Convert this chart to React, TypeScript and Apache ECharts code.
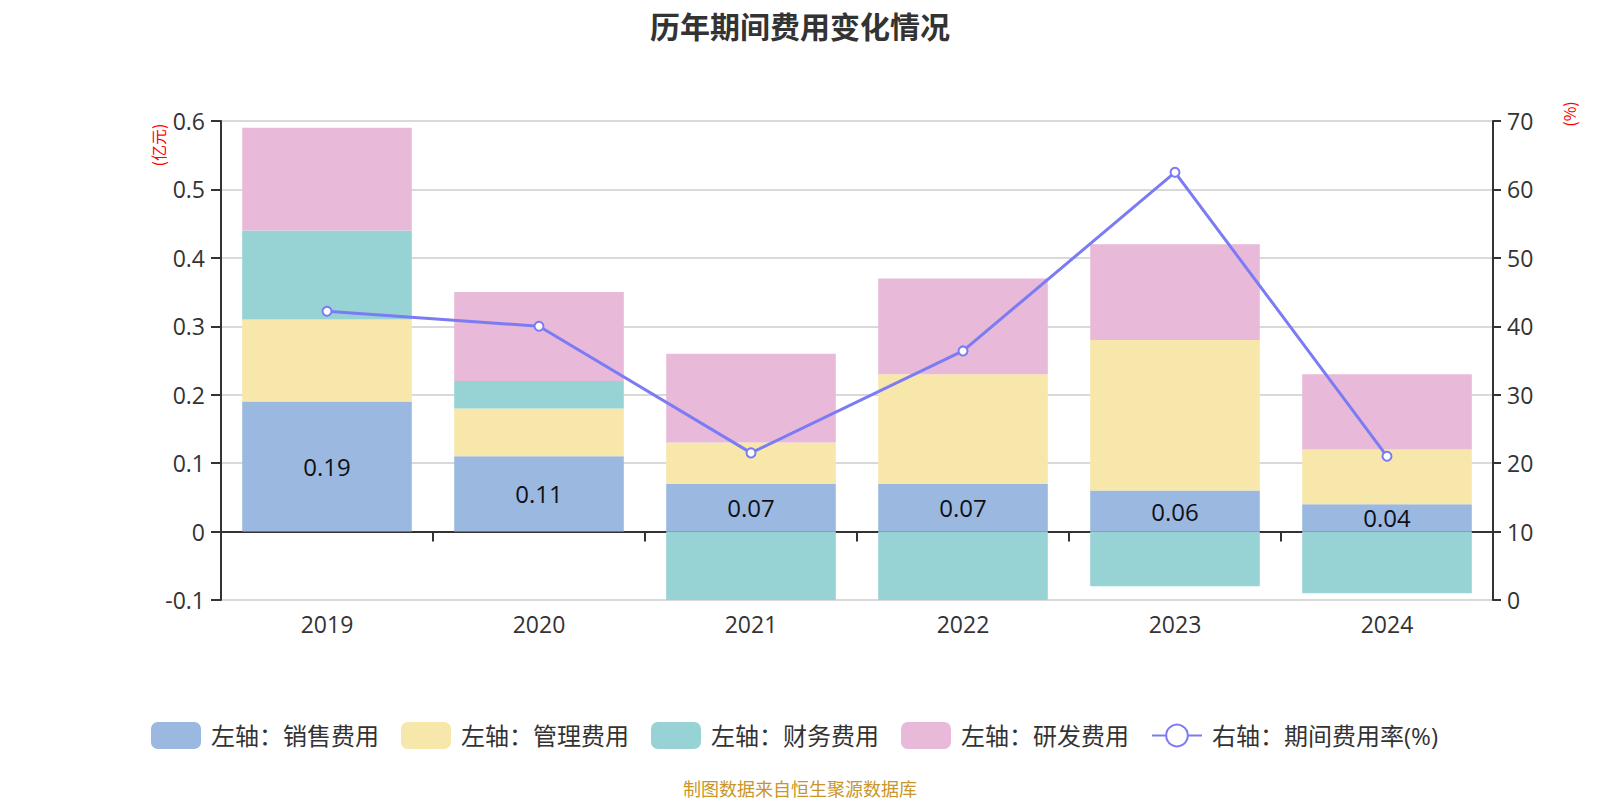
import React, { useEffect, useRef } from "react";
import * as echarts from "echarts";

const categories = ["2019", "2020", "2021", "2022", "2023", "2024"];
const salesExpense = [0.19, 0.11, 0.07, 0.07, 0.06, 0.04];
const adminExpense = [0.12, 0.07, 0.06, 0.16, 0.22, 0.08];
const financeExpense = [0.13, 0.04, -0.1, -0.1, -0.08, -0.09];
const rdExpense = [0.15, 0.13, 0.13, 0.14, 0.14, 0.11];
const expenseRate = [42.2, 40.0, 21.5, 36.4, 62.5, 21.0];

const seriesNames = [
  "左轴：销售费用",
  "左轴：管理费用",
  "左轴：财务费用",
  "左轴：研发费用",
  "右轴：期间费用率(%)",
];
const colors = ["#9bb8e1", "#f8e7aa", "#97d3d4", "#e8b9d9", "#7b7cf3"];

export default function App() {
  const ref = useRef<HTMLDivElement>(null);
  useEffect(() => {
    document.body.style.margin = "0";
    const chart = echarts.init(ref.current!, null, { renderer: "svg" });
    const font = "'Open Sans', 'Noto Sans CJK SC', sans-serif";
    const cjk = "'Noto Sans CJK SC', sans-serif";
    const barSeries = [salesExpense, adminExpense, financeExpense, rdExpense].map((d, i) => ({
      name: seriesNames[i],
      type: "bar",
      stack: "total",
      xAxisIndex: 0,
      yAxisIndex: 0,
      barCategoryGap: "20%",
      data: d,
      itemStyle: { color: colors[i] },
      label:
        i === 0
          ? { show: true, position: "inside", fontSize: 24, color: "#111", fontFamily: font }
          : { show: false },
    }));
    chart.setOption({
      animation: false,
      textStyle: { fontFamily: font },
      title: [
        {
          text: "历年期间费用变化情况",
          left: "center",
          top: 5,
          textStyle: { fontSize: 30, fontWeight: "bold", color: "#333", fontFamily: cjk },
        },
        {
          text: "制图数据来自恒生聚源数据库",
          left: "center",
          top: 774,
          textStyle: { fontSize: 18, fontWeight: "normal", color: "#c8962a", fontFamily: cjk },
        },
      ],
      legend: {
        top: 717,
        left: 146,
        itemWidth: 50,
        itemHeight: 27,
        itemGap: 22,
        textStyle: { fontSize: 24, color: "#333", fontFamily: font, padding: [0, 0, 0, 5] },
        data: [
          { name: seriesNames[0], icon: "roundRect" },
          { name: seriesNames[1], icon: "roundRect" },
          { name: seriesNames[2], icon: "roundRect" },
          { name: seriesNames[3], icon: "roundRect" },
          { name: seriesNames[4] },
        ],
      },
      grid: { left: 221, right: 107, top: 121, bottom: 200, containLabel: false },
      xAxis: [
        {
          type: "category",
          data: categories,
          position: "bottom",
          axisLine: { show: false, onZero: false },
          axisTick: { show: false },
          axisLabel: { fontSize: 23, color: "#333", margin: 12, fontFamily: font },
        },
        {
          type: "category",
          data: categories,
          position: "bottom",
          axisLine: { show: true, onZero: true, onZeroAxisIndex: 0, lineStyle: { color: "#333", width: 2 } },
          axisTick: { show: true, length: 10, lineStyle: { color: "#333", width: 2 } },
          axisLabel: { show: false },
        },
      ],
      yAxis: [
        {
          type: "value",
          min: -0.1,
          max: 0.6,
          interval: 0.1,
          axisLine: { show: true, lineStyle: { color: "#333", width: 2 } },
          axisTick: { show: true, length: 10, lineStyle: { color: "#333", width: 2 } },
          axisLabel: { fontSize: 23, color: "#333", margin: 16, fontFamily: font },
          splitLine: { show: true, lineStyle: { color: "#ccc", width: 1.5 } },
        },
        {
          type: "value",
          min: 0,
          max: 70,
          interval: 10,
          position: "right",
          axisLine: { show: true, lineStyle: { color: "#333", width: 2 } },
          axisTick: { show: true, length: 8, lineStyle: { color: "#333", width: 2 } },
          axisLabel: { fontSize: 23, color: "#333", margin: 14, fontFamily: font },
          splitLine: { show: false },
        },
      ],
      graphic: [
        {
          type: "text",
          x: 158,
          y: 145,
          rotation: Math.PI / 2,
          style: {
            text: "(亿元)",
            fill: "#ff0000",
            fontSize: 16,
            fontFamily: cjk,
            align: "center",
            verticalAlign: "middle",
          },
        },
        {
          type: "text",
          x: 1569,
          y: 114,
          rotation: Math.PI / 2,
          style: {
            text: "(%)",
            fill: "#ff0000",
            fontSize: 16,
            fontFamily: cjk,
            align: "center",
            verticalAlign: "middle",
          },
        },
      ],
      series: [
        ...barSeries,
        {
          name: seriesNames[4],
          type: "line",
          xAxisIndex: 0,
          yAxisIndex: 1,
          data: expenseRate,
          symbol: "emptyCircle",
          symbolSize: 9,
          lineStyle: { color: colors[4], width: 3 },
          itemStyle: { color: colors[4], borderWidth: 2 },
          z: 5,
        },
      ],
    });
    return () => chart.dispose();
  }, []);
  return <div ref={ref} style={{ width: 1600, height: 800 }} />;
}
